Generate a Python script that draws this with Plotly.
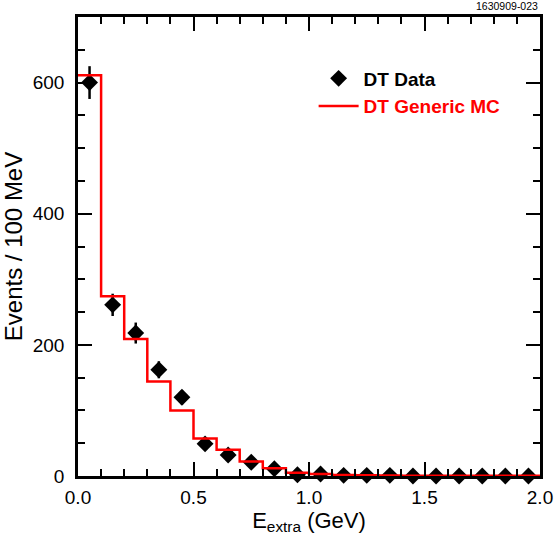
import plotly.graph_objects as go

# Data
bin_edges = [round(0.1 * i, 1) for i in range(21)]
mc_values = [611, 274, 209, 144, 100, 57, 40, 22, 12, 5, 3, 1.5, 1, 0.8, 0.5, 0.5, 0.3, 0.3, 0.2, 0.2]
data_x = [round(0.05 + 0.1 * i, 2) for i in range(20)]
data_y = [600, 261, 218, 162, 120, 49, 32, 21, 11, 2, 3, 1, 1, 1, 0, 0, 0, 0, 0, 0]
data_err = [25, 17, 16, 13, 11, 7, 6, 5, 3, 1.5, 2, 1, 1, 1, 0, 0, 0, 0, 0, 0]

font_fam = "Liberation Sans, Arial, Helvetica, sans-serif"

fig = go.Figure()

fig.add_trace(go.Scatter(
    x=data_x, y=data_y,
    mode="markers",
    marker=dict(symbol="diamond", size=13, color="black"),
    error_y=dict(type="data", array=data_err, color="black", thickness=2.5, width=0),
    name="<b>DT Data</b>",
    cliponaxis=False,
    showlegend=True,
    legend="legend",
))

fig.add_trace(go.Scatter(
    x=bin_edges[:-1] + [bin_edges[-1]],
    y=mc_values + [mc_values[-1]],
    mode="lines",
    line=dict(shape="hv", color="#ff0000", width=2.5),
    name="<span style='color:#ff0000'><b>DT Generic MC</b></span>",
    showlegend=True,
    legend="legend2",
))

axis_common = dict(
    showline=True, linecolor="black", linewidth=2.5,
    ticks="inside", tickcolor="black", tickwidth=1.5, ticklen=14,
    mirror="allticks", showgrid=False, zeroline=False, automargin=False,
    tickfont=dict(family=font_fam, size=19, color="black"),
)

fig.update_xaxes(
    range=[0, 2.0], tickvals=[0, 0.5, 1.0, 1.5, 2.0],
    ticktext=["0.0", "0.5", "1.0", "1.5", "2.0"],
    ticklabelstandoff=2,
    minor=dict(dtick=0.1, ticks="inside", ticklen=7, tickcolor="black", tickwidth=1.5),
    title=dict(text="E<sub>extra</sub> (GeV)", font=dict(family=font_fam, size=22, color="black"), standoff=4),
    **axis_common,
)
fig.update_yaxes(
    range=[0, 700], tickvals=[0, 200, 400, 600],
    ticklabelstandoff=7,
    minor=dict(dtick=50, ticks="inside", ticklen=7, tickcolor="black", tickwidth=1.5),
    title=dict(text="Events / 100 MeV", font=dict(family=font_fam, size=24, color="black"), standoff=8),
    **axis_common,
)

fig.add_annotation(
    text="1630909-023", xref="paper", yref="paper", x=1.0, y=1.0,
    xanchor="right", yanchor="bottom", yshift=3, showarrow=False,
    font=dict(family=font_fam, size=10.5, color="black"),
)

leg_common = dict(
    xanchor="left", yanchor="middle", itemwidth=40,
    bgcolor="rgba(0,0,0,0)", borderwidth=0,
    font=dict(family=font_fam, size=19, color="black"),
)

fig.update_layout(
    width=554, height=536,
    margin=dict(l=78, r=14, t=17, b=60),
    paper_bgcolor="white", plot_bgcolor="white",
    font=dict(family=font_fam, color="black"),
    showlegend=True,
    legend=dict(x=0.51, y=0.866, **leg_common),
    legend2=dict(x=0.51, y=0.806, **leg_common),
)

fig.write_html(
    "out.html",
    config={"displayModeBar": False},
    post_script="document.body.style.margin='0';document.body.style.overflow='hidden';",
)
